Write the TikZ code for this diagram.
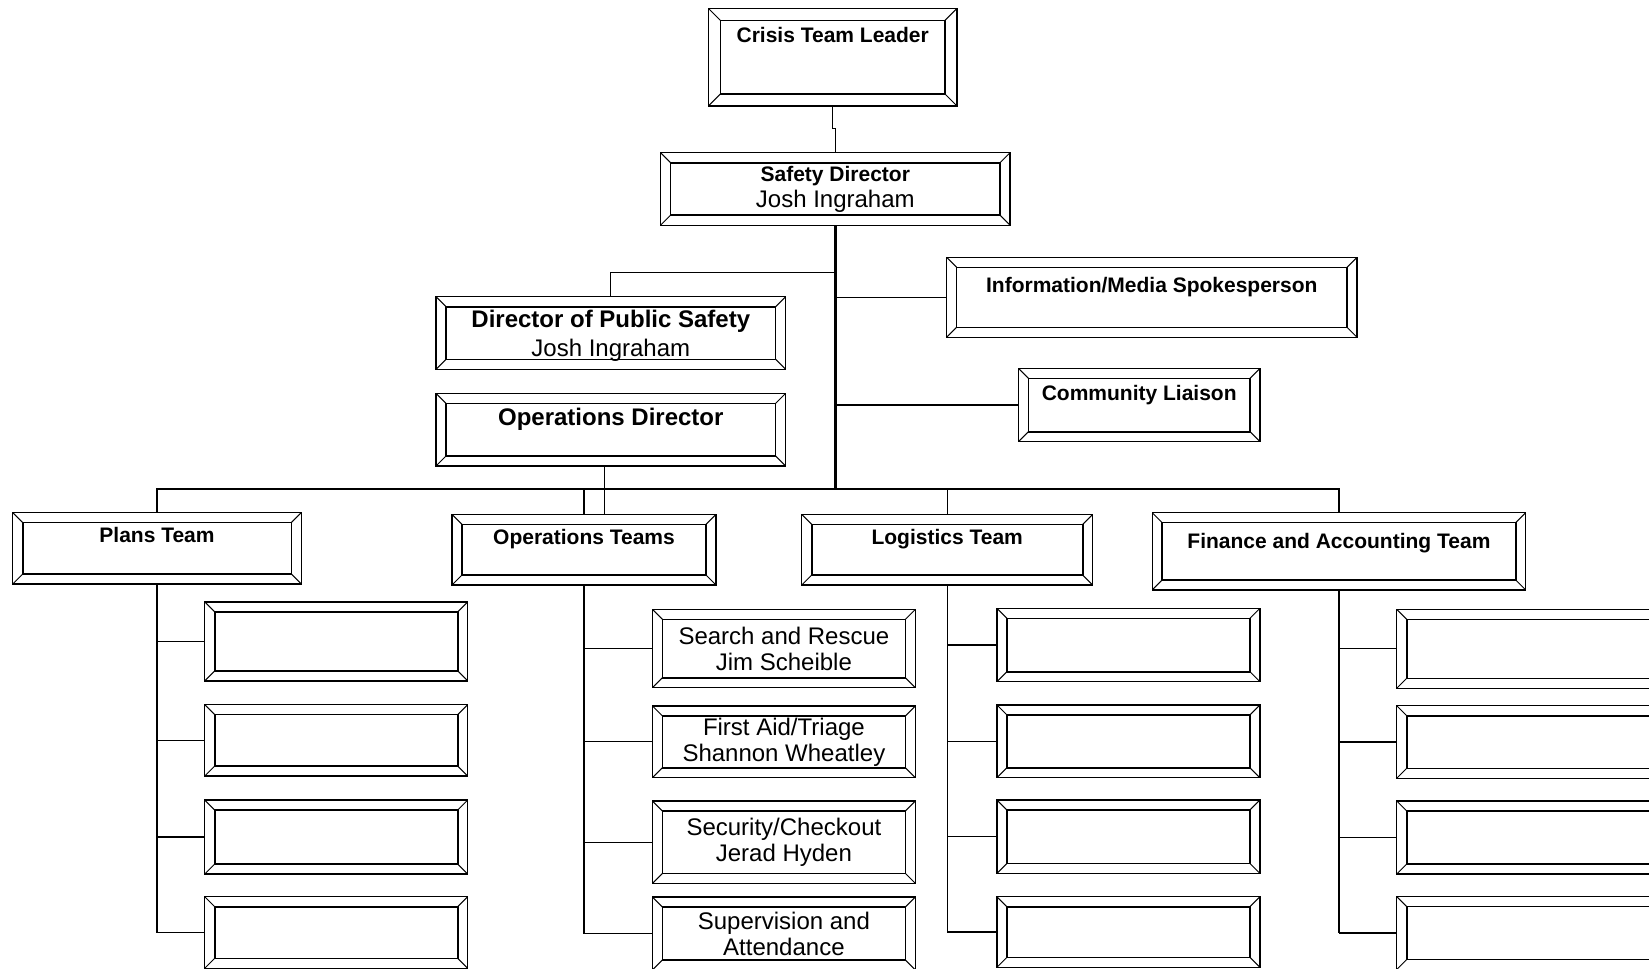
\documentclass[tikz,border=0pt]{standalone}
\usepackage{fontspec}
\setmainfont{Liberation Sans}
\usepackage{tikz}
\newcommand\smallbold{\fontsize{10.5}{13}\selectfont\bfseries}
\newcommand\bigbold{\fontsize{12}{14}\selectfont\bfseries}
\newcommand\namefont{\fontsize{12}{13}\selectfont}
\tikzset{bevel inset/.store in=\bevinset, bevel inset=5pt,
  bevelbox/.style={draw, line width=0.6pt, inner sep=2pt, align=center,
    path picture={
      \draw[line width=0.8pt] ([shift={(\bevinset,\bevinset)}]path picture bounding box.south west)
        rectangle ([shift={(-\bevinset,-\bevinset)}]path picture bounding box.north east);
      \draw[line width=0.5pt]
        (path picture bounding box.south west) -- ++(\bevinset,\bevinset)
        (path picture bounding box.north west) -- ++(\bevinset,-\bevinset)
        (path picture bounding box.north east) -- ++(-\bevinset,-\bevinset)
        (path picture bounding box.south east) -- ++(-\bevinset,\bevinset);
    }},
  titlebox/.style={bevelbox, font=\smallbold, text height=8pt, text depth=#1},
  titlebox/.default=13.5pt,
  memberbox/.style={bevelbox, font=\namefont, minimum width=131.5pt},
  link/.style={line width=0.6pt},
  trunk/.style={line width=1.3pt}}

\begin{document}
\begin{tikzpicture}[x=0.5pt,y=-0.5pt]
  \path[use as bounding box, clip] (0,0) rectangle (1649,969);
  % leaders
  \node[titlebox=22.6pt, bevel inset=6pt, minimum width=124.3pt, minimum height=48.8pt] (leader) at (832.7,57.2) {Crisis Team Leader};
  \node[bevelbox, font=\namefont, minimum width=174.7pt, minimum height=36.2pt] (safety) at (835.3,188.9) {{\smallbold Safety Director}\\Josh Ingraham};
  \node[bevelbox, font=\namefont, text depth=0pt, minimum width=174.8pt, minimum height=36.3pt] (dps) at (610.8,333) {{\bigbold Director of Public Safety}\\[1.5pt]Josh Ingraham};
  \node[titlebox=13.4pt, font=\bigbold, text height=9pt, minimum width=174.8pt, minimum height=36.3pt] (opsdir) at (610.8,429.7) {Operations Director};
  \node[titlebox=12.8pt, minimum width=205.2pt, minimum height=40pt] (info) at (1151.8,297.3) {Information/Media Spokesperson};
  \node[titlebox=12.2pt, minimum width=120.8pt, minimum height=36.7pt] (liaison) at (1139.2,405) {Community Liaison};
  % teams
  \node[titlebox=13.7pt, minimum width=144.3pt, minimum height=35.7pt] (plans) at (157,548.3) {Plans Team};
  \node[titlebox, minimum width=132pt, minimum height=35.3pt] (opsteams) at (584,549.7) {Operations Teams};
  \node[titlebox, minimum width=145.5pt, minimum height=35.3pt] (logistics) at (947.2,549.7) {Logistics Team};
  \node[titlebox=11.1pt, minimum width=186.8pt, minimum height=38.7pt] (finance) at (1338.9,551.3) {Finance and Accounting Team};

  \coordinate (hub) at (835.3,489);
  \coordinate (dpsjoin) at (835.3,272.7);
  \coordinate (odfoot) at ([xshift=-3pt]opsdir.south);
  \draw[link] (leader.south) -- ++(0,22) -| (safety.north);
  \draw[trunk] (safety.south) -- (hub);
  \draw[link] (dpsjoin) -| (dps.north);
  \draw[link] (hub |- info.west) -- (info.west);
  \draw[link] (hub |- liaison.west) -- (liaison.west);
  \draw[link] (plans.north) |- (hub) -| (finance.north);
  \draw[link, line width=1pt] (opsteams.north |- hub) -- (hub);
  \draw[link] (opsteams.north) -- (opsteams.north |- hub);
  \draw[link] (logistics.north) -- (logistics.north |- hub);
  \draw[link] (odfoot) -- (odfoot |- opsteams.north);

  % team members
  \foreach \y/\h [count=\i] in {641.4/39.5pt, 740.3/35.7pt, 837/37pt, 932.5/35.8pt} {
    \node[memberbox, minimum height=\h] (plans-\i) at (336.2,\y) {};
    \draw[link] (plans.south |- plans-\i.west) -- (plans-\i.west);
  }
  \draw[link] (plans.south) -- (plans.south |- plans-4.west);
  \foreach \y/\h/\who [count=\i] in {648.5/39.2pt/{Search and Rescue\\Jim Scheible},
      741.8/35.9pt/{First Aid/Triage\\Shannon Wheatley},
      842.2/41.2pt/{Security/Checkout\\Jerad Hyden},
      933.5/36.5pt/{Supervision and\\Attendance}} {
    \node[memberbox, minimum height=\h] (ops-\i) at (783.9,\y) {\who};
    \draw[link] (opsteams.south |- ops-\i.west) -- (ops-\i.west);
  }
  \draw[link] (opsteams.south) -- (opsteams.south |- ops-4.west);
  \foreach \y/\h [count=\i] in {645/36.7pt, 741.3/36.4pt, 836.7/36.7pt, 932/35.3pt} {
    \node[memberbox, minimum height=\h] (log-\i) at (1128.4,\y) {};
    \draw[link] (logistics.south |- log-\i.west) -- (log-\i.west);
  }
  \draw[link] (logistics.south) -- (logistics.south |- log-4.west);
  \foreach \y/\h [count=\i] in {648.8/39.5pt, 742/36.3pt, 837.5/36.5pt, 933/36.5pt} {
    \node[memberbox, minimum height=\h] (fin-\i) at (1528.2,\y) {};
    \draw[link] (finance.south |- fin-\i.west) -- (fin-\i.west);
  }
  \draw[link] (finance.south) -- (finance.south |- fin-4.west);
\end{tikzpicture}
\end{document}
